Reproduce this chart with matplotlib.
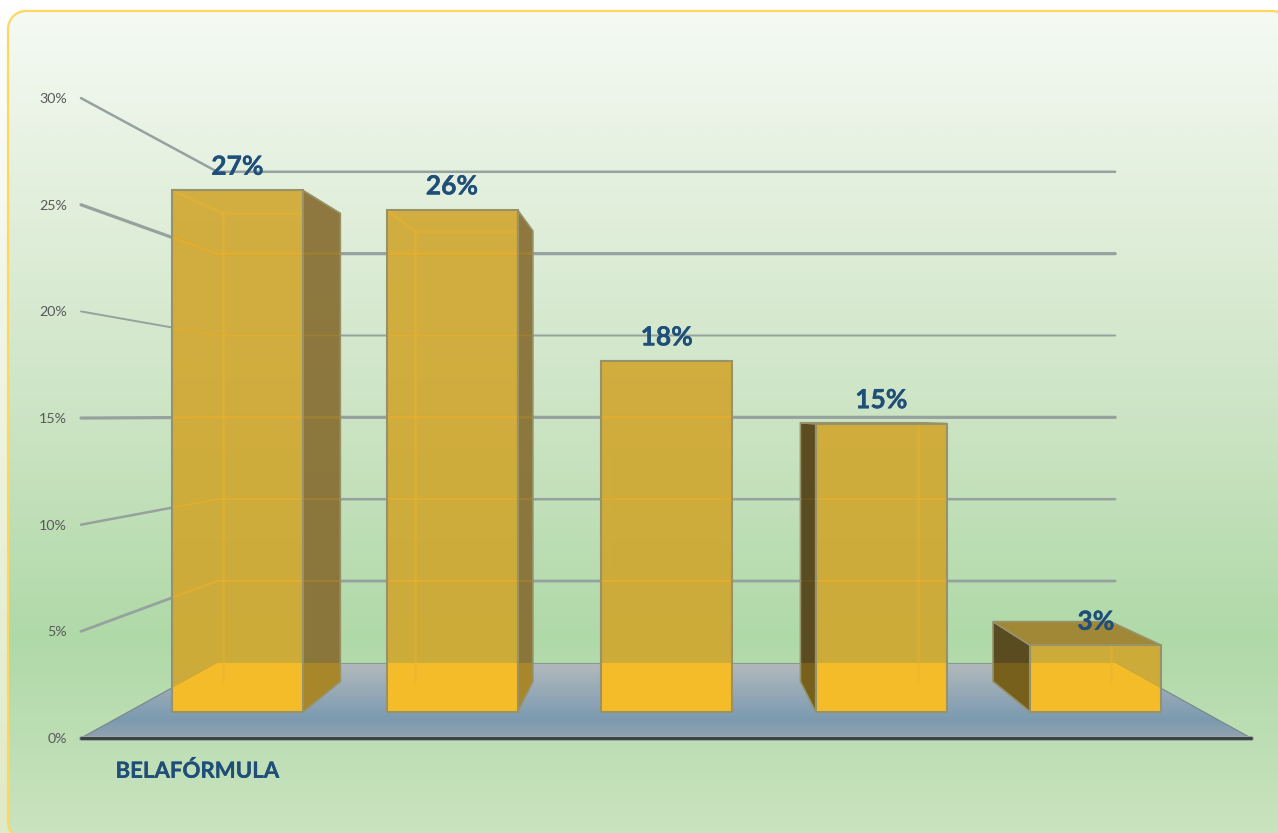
import numpy as np
import matplotlib
matplotlib.use("Agg")
import matplotlib.pyplot as plt
import matplotlib.patheffects as pe
from matplotlib.colors import LinearSegmentedColormap
from matplotlib.patches import Polygon

plt.rcParams['font.family'] = ['Lato', 'DejaVu Sans']

# values (bars sit a bit under their rounded labels)
bar_values = [26.6, 25.6, 17.9, 14.7, 3.4]
bar_labels = ['27%', '26%', '18%', '15%', '3%']
tick_values = [0, 5, 10, 15, 20, 25, 30]
tick_labels = ['0%', '5%', '10%', '15%', '20%', '25%', '30%']
category = 'BELAFÓRMULA'

W, H = 1278, 833
BLUE = '#1f4e79'
EDGE = '#97926a'

# perspective set-up of the 3d chart, in pixels
VX, VY = 667, 415        # vanishing point
X0, X1 = 81, 1251        # front edge of the floor
Y0 = 738                 # front edge of the floor
PX_PER_PCT = 21.33
S_BACK = 0.7675          # floor back edge
S_BAR_FRONT = 0.9195
S_BAR_BACK = 0.825
BAR_W = 142.5
BAR_PITCH = 233.4


def project(x, v, s):
    """world x, value in %, depth scale -> pixel position"""
    return VX + (x - VX) * s, VY + (Y0 - VY - PX_PER_PCT * v) * s


def box(x_left, x_right, v_low, v_high, s):
    return [project(x_left, v_low, s), project(x_right, v_low, s),
            project(x_right, v_high, s), project(x_left, v_high, s)]


def rounded_rect(x0, y0, x1, y1, r):
    # plain points, curved patches that run off the canvas get clipped badly
    pts = []
    corners = [(x0 + r, y0 + r, 180), (x1 - r, y0 + r, 270), (x1 - r, y1 - r, 0), (x0 + r, y1 - r, 90)]
    for cx, cy, start in corners:
        t = np.radians(np.linspace(start, start + 90, 16))
        pts.extend(zip(cx + r * np.cos(t), cy + r * np.sin(t)))
    return pts


def gradient(ax, stops, colors, extent, clip=None, z=0):
    cmap = LinearSegmentedColormap.from_list(
        'g', list(zip((np.array(stops) - stops[0]) / (stops[-1] - stops[0]), colors)))
    im = ax.imshow(np.linspace(0, 1, 256).reshape(-1, 1), cmap=cmap, aspect='auto',
                   extent=extent, zorder=z, interpolation='bilinear')
    if clip is not None:
        im.set_clip_path(clip)
    return im


fig = plt.figure(figsize=(W / 100, H / 100), dpi=100, facecolor='white')
ax = fig.add_axes([0, 0, 1, 1])
ax.axis('off')

# strip outside the panel fades from white to a pale green
gradient(ax, [0, 300, 833], ['#ffffff', '#f0f6e6', '#dfeac8'], (0, W, H, 0), z=0)

# rounded panel with its green gradient
panel_xy = rounded_rect(8, 11, 1290, 840, 18)
panel = Polygon(panel_xy, closed=True, facecolor='none', edgecolor='none', zorder=1)
ax.add_patch(panel)
gradient(ax, [0, 200, 418, 640, 833],
         ['#f6fbf5', '#e2efdc', '#cce4c4', '#b0d9a8', '#c9e3bf'], (0, W, H, 0), panel, z=1)
ax.add_patch(Polygon(panel_xy, closed=True, facecolor='none', edgecolor='#ffd75e', linewidth=1.6, zorder=2))

# floor corners
floor_xy = [project(X0, 0, 1), project(X1, 0, 1), project(X1, 0, S_BACK), project(X0, 0, S_BACK)]
floor = Polygon(floor_xy, closed=True, facecolor='none', edgecolor='none', zorder=3)
ax.add_patch(floor)
gradient(ax, [663, 700, 720, 738], ['#b2b9bc', '#8fa5b5', '#7b9ab0', '#94a3ae'],
         (0, W, 738, 663), floor, z=3)
ax.plot([floor_xy[3][0], floor_xy[2][0]], [floor_xy[3][1]] * 2, color='#8a9a90', lw=0.8, zorder=3.1)
ax.plot([floor_xy[3][0], floor_xy[0][0]], [floor_xy[3][1], floor_xy[0][1]], color='#78858a', lw=0.8, zorder=3.1)
ax.plot([floor_xy[2][0], floor_xy[1][0]], [floor_xy[2][1], floor_xy[1][1]], color='#78858a', lw=0.8, zorder=3.1)

# gridlines, wall on the left then wall at the back
grid_widths = {5: 2.0, 10: 1.8, 15: 2.3, 20: 1.4, 25: 2.3, 30: 1.8}
grid_segments = []
for v, lab in zip(tick_values, tick_labels):
    front = project(X0, v, 1)
    ax.text(67, front[1] + 1, lab, ha='right', va='center', fontsize=10.3, color='#595959', zorder=20)
    if v == 0:
        continue
    back_l = project(X0, v, S_BACK)
    back_r = project(X1, v, S_BACK)
    xs = [front[0], back_l[0], back_r[0]]
    ys = [front[1], back_l[1], back_r[1]]
    grid_segments.append((xs, ys, grid_widths[v]))
    ax.plot(xs, ys, color='#96a29e', lw=grid_widths[v], solid_capstyle='round', solid_joinstyle='round', zorder=4)

ax.plot([X0, X1], [Y0, Y0], color='#a0aca0', lw=3.6, solid_capstyle='round', zorder=4.5)
ax.plot([X0, X1], [Y0, Y0], color='#36454a', lw=2.2, solid_capstyle='round', zorder=4.6)


def see_through(face, floor_color, grid_color, grid_alpha, z, edges=None, edge_alpha=0.45):
    # the floor and grid shine through the translucent bar faces
    patch = Polygon(floor_xy, closed=True, facecolor=floor_color, edgecolor='none', zorder=z)
    ax.add_patch(patch)
    patch.set_clip_path(face)
    for xs, ys, lw in grid_segments:
        line, = ax.plot(xs, ys, color=grid_color, alpha=grid_alpha, lw=lw * 0.9, zorder=z + 0.1)
        line.set_clip_path(face)
    for a, b in edges or []:
        line, = ax.plot([a[0], b[0]], [a[1], b[1]], color=grid_color, alpha=edge_alpha, lw=1.8, zorder=z + 0.1)
        line.set_clip_path(face)


for i, (value, label) in enumerate(zip(bar_values, bar_labels)):
    center = VX - 0.4 + (i - 2) * BAR_PITCH
    left, right = center - BAR_W / 2, center + BAR_W / 2
    z = 6 + i

    f = box(left, right, 0, value, S_BAR_FRONT)
    b = box(left, right, 0, value, S_BAR_BACK)
    hidden = [(b[1], b[2]), (b[2], b[3]), (b[3], b[0]), (f[2], b[2]), (f[3], b[3])]

    # side face, only the one turned towards the vanishing point shows
    if right < VX:
        side = Polygon([f[1], b[1], b[2], f[2]], closed=True, facecolor=(135 / 255, 110 / 255, 50 / 255),
                       alpha=0.92, edgecolor='none', zorder=z)
        ax.add_patch(side)
        see_through(side, '#a8862a', '#b08a30', 0.55, z + 0.1)
        ax.add_patch(Polygon([f[1], b[1], b[2], f[2]], closed=True, fill=False, edgecolor=EDGE, lw=1.2, zorder=z + 0.3))
    elif left > VX:
        side = Polygon([f[0], b[0], b[3], f[3]], closed=True, facecolor=(85 / 255, 68 / 255, 25 / 255),
                       alpha=0.95, edgecolor='none', zorder=z)
        ax.add_patch(side)
        see_through(side, '#76601c', '#6e5a20', 0.5, z + 0.1)
        ax.add_patch(Polygon([f[0], b[0], b[3], f[3]], closed=True, fill=False, edgecolor=EDGE, lw=1.2, zorder=z + 0.3))

    # top face, seen only below the horizon
    if f[2][1] > VY:
        ax.add_patch(Polygon([f[3], f[2], b[2], b[3]], closed=True, facecolor='#a08836',
                             edgecolor=EDGE, lw=1.2, zorder=z + 0.35))

    # front face
    front = Polygon(f, closed=True, facecolor=(208 / 255, 165 / 255, 42 / 255), alpha=0.88,
                    edgecolor='none', zorder=z + 0.4)
    ax.add_patch(front)
    # the middle bar is seen straight on, its back edges hardly show
    see_through(front, '#f5bc2a', '#ecb32e', 0.65, z + 0.5, hidden, 0.12 if left < VX < right else 0.45)
    ax.add_patch(Polygon(f, closed=True, fill=False, edgecolor=EDGE, lw=1.5, zorder=z + 0.7))

    ax.text((f[0][0] + f[1][0]) / 2, f[2][1] - 23.5, label, ha='center', va='center', fontsize=19,
            fontweight='bold', color=BLUE, zorder=20,
            path_effects=[pe.withStroke(linewidth=0.25, foreground=BLUE)])

ax.text(115.5, 771, category, ha='left', va='center', fontsize=16, fontweight='bold', color=BLUE, zorder=20,
        path_effects=[pe.withStroke(linewidth=0.2, foreground=BLUE)])

ax.set_xlim(0, W)
ax.set_ylim(H, 0)
fig.savefig('out.png', dpi=100, facecolor='white')
